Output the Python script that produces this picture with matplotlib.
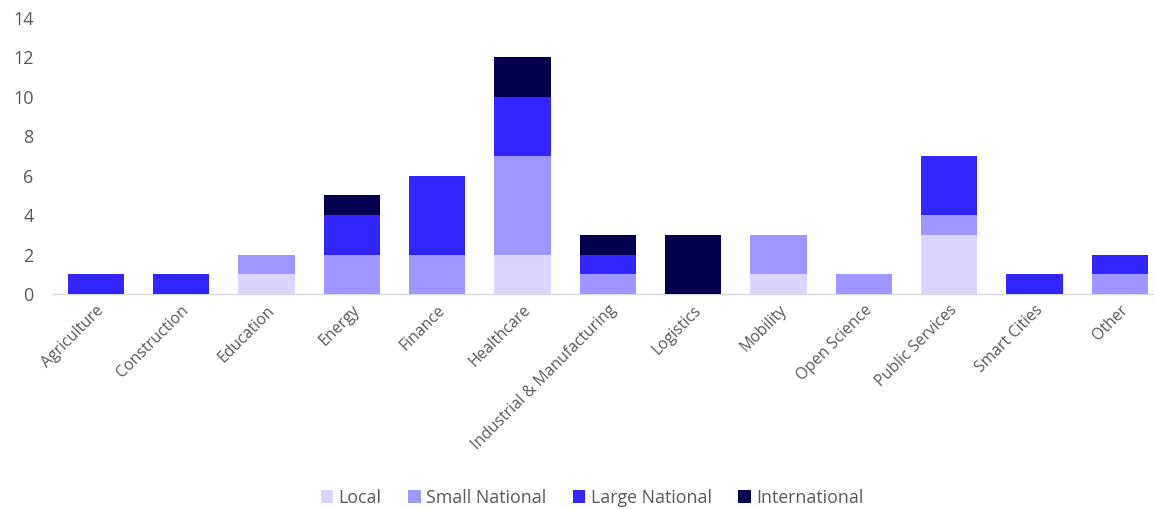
import matplotlib
matplotlib.use("Agg")
import matplotlib.pyplot as plt
import numpy as np

categories = ["Agriculture", "Construction", "Education", "Energy", "Finance", "Healthcare",
              "Industrial & Manufacturing", "Logistics", "Mobility", "Open Science",
              "Public Services", "Smart Cities", "Other"]
local          = [0, 0, 1, 0, 0, 2, 0, 0, 1, 0, 3, 0, 0]
small_national = [0, 0, 1, 2, 2, 5, 1, 0, 2, 1, 1, 0, 1]
large_national = [1, 1, 0, 2, 4, 3, 1, 0, 0, 0, 3, 1, 1]
international  = [0, 0, 0, 1, 0, 2, 1, 3, 0, 0, 0, 0, 0]
series_names = ["Local", "Small National", "Large National", "International"]
colors = ["#D9D5FF", "#9F97FF", "#3325FF", "#04004F"]

plt.rcParams['font.family'] = ['Open Sans', 'DejaVu Sans']

fig = plt.figure(figsize=(11.54, 5.09), dpi=100)
ax = fig.add_axes([0.046, 0.4224, 0.954, 0.5423])

x = np.arange(len(categories))
bottom = np.zeros(len(categories))
for name, vals, c in zip(series_names, [local, small_national, large_national, international], colors):
    ax.bar(x, vals, bottom=bottom, width=0.66, color=c, label=name, zorder=3)
    bottom += np.array(vals)

ax.set_xlim(-0.5, 12.4)
ax.set_ylim(0, 14)
ax.set_yticks(range(0, 15, 2))
ax.set_xticks(x)
ax.set_xticklabels(categories, rotation=45, ha='right', rotation_mode='anchor',
                   fontsize=11.3, color='#595959')
ax.tick_params(axis='y', labelsize=13, colors='#595959', length=0, pad=14)
ax.tick_params(axis='x', length=0, pad=6)
for s in ['top', 'right', 'left']:
    ax.spines[s].set_visible(False)
ax.spines['bottom'].set_color('#D9D9D9')
ax.spines['bottom'].set_linewidth(1)

leg = fig.legend(loc='center', bbox_to_anchor=(0.513, 0.022), ncol=4, frameon=False,
                 fontsize=12.8, handlelength=0.7, handleheight=0.7, handletextpad=0.3,
                 columnspacing=1.5)
for t in leg.get_texts():
    t.set_color('#595959')

fig.savefig("out.png", dpi=100)
